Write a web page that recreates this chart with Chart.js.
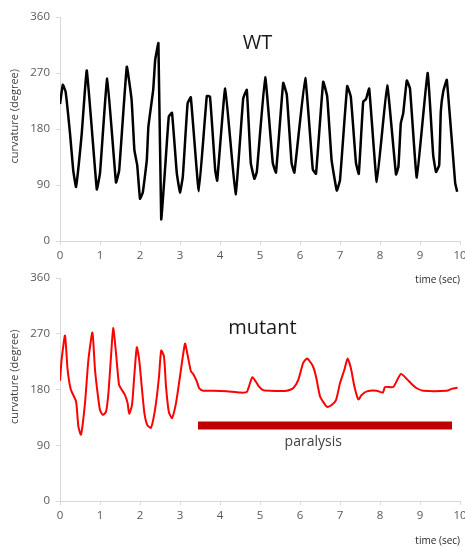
<!DOCTYPE html>
<html>
<head>
<meta charset="utf-8">
<script src="https://cdn.jsdelivr.net/npm/chart.js@4.4.1/dist/chart.umd.min.js"></script>
<style>
  html,body{margin:0;padding:0;background:#fff;overflow:hidden;width:465px;height:548px;}
  canvas{position:absolute;left:0;}
  #idWT{top:0;}
  #idMutante{top:262px;}
</style>
</head>
<body>
<canvas id="idWT" width="480" height="290"></canvas>
<canvas id="idMutante" width="480" height="286"></canvas>
<script>
// datos (tiempo en seg, curvatura en grados)
var wtTiempo=[0,0.07,0.14,0.25,0.33,0.40,0.54,0.67,0.92,1.0,1.18,1.40,1.48,1.67,1.79,1.86,1.93,2.0,2.07,2.17,2.21,2.33,2.38,2.46,2.53,2.63,2.72,2.80,2.92,3.0,3.07,3.19,3.27,3.47,3.67,3.75,3.88,3.93,4.13,4.39,4.58,4.67,4.77,4.86,4.92,5.13,5.32,5.40,5.58,5.67,5.79,5.86,6.13,6.32,6.40,6.58,6.68,6.79,6.92,7.0,7.18,7.27,7.40,7.47,7.58,7.65,7.73,7.92,8.18,8.40,8.46,8.52,8.58,8.67,8.75,8.92,9.19,9.33,9.40,9.48,9.52,9.58,9.67,9.88,9.93];
var wtCurvatura=[220,251,240,173,114,87,170,274,83,109,261,94,114,280,227,146,122,68,78,130,184,243,291,318,35,119,200,206,109,78,103,221,231,80,233,232,114,97,245,75,229,243,125,100,111,263,125,110,254,235,125,110,262,115,108,256,232,130,81,98,249,232,125,108,224,228,245,95,250,107,119,189,205,258,245,102,270,138,111,122,208,240,259,93,79];

var mutTiempo=[0,0.04,0.125,0.19,0.27,0.40,0.46,0.525,0.625,0.71,0.81,0.875,0.94,1.0,1.07,1.15,1.21,1.275,1.33,1.40,1.475,1.54,1.625,1.69,1.73,1.80,1.85,1.92,1.98,2.05,2.11,2.18,2.27,2.33,2.40,2.475,2.53,2.60,2.65,2.72,2.80,2.90,3.0,3.125,3.18,3.27,3.33,3.42,3.48,3.58,3.83,4.17,4.5,4.67,4.81,4.96,5.08,5.25,5.67,5.83,5.96,6.08,6.18,6.32,6.40,6.50,6.60,6.68,6.79,6.90,7.0,7.11,7.19,7.27,7.36,7.46,7.54,7.67,7.92,8.07,8.125,8.33,8.52,8.67,8.79,8.92,9.08,9.67,9.79,9.94];
var mutCurvatura=[194,228,267,212,180,161,120,107,158,228,272,212,174,147,139,144,174,233,279,239,188,180,171,158,141,155,196,248,228,180,142,123,118,131,158,201,243,233,185,144,134,158,201,254,239,210,205,193,182,178,178,177,175,176,200,186,179,178,178,182,196,223,230,218,201,169,158,152,155,163,190,212,230,215,185,164,171,177,178,175,184,184,205,197,189,182,178,178,181,183];

// barra de paralisis
var paralisisTiempo=[3.45,9.8];
var paralisisNivel=[122,122];

// ejes
var ejeX=[0,10];
var ejeY=[0,360];
var pasoX=1;
var pasoY=90;

Chart.defaults.font.family="'Open Sans', sans-serif";

function puntos(xs,ys){
    var p=[];
    for(let i in xs){
        p.push({x:xs[i],y:ys[i]});
    }
    return p;
}

// textos sueltos (titulo del eje y, etiquetas)
var pluginTextos={
    id:'textos',
    afterDraw:function(chart,args,opts){
        var ctx=chart.ctx;
        var a=chart.chartArea;
        ctx.save();
        // titulo eje y
        ctx.translate(15,a.top+0.443*(a.bottom-a.top));
        ctx.rotate(-Math.PI/2);
        ctx.font="11px 'Open Sans', sans-serif";
        ctx.fillStyle="#404040";
        ctx.textAlign="center";
        ctx.textBaseline="middle";
        ctx.fillText("curvature (degree)",0,0);
        ctx.restore();
        var etiquetas=opts.etiquetas||[];
        for(let i in etiquetas){
            var e=etiquetas[i];
            ctx.save();
            ctx.font=e.font;
            ctx.fillStyle=e.color;
            ctx.textAlign="center";
            ctx.textBaseline="middle";
            ctx.fillText(e.texto,chart.scales.x.getPixelForValue(e.x),chart.scales.y.getPixelForValue(e.y));
            ctx.restore();
        }
    }
};

function opciones(arriba,altoEjeX,tituloAbajo,etiquetas){
    return {
        responsive:false,
        animation:false,
        devicePixelRatio:1,
        layout:{padding:{top:arriba,right:20,left:0,bottom:0}},
        plugins:{
            legend:{display:false},
            tooltip:{enabled:false},
            textos:{etiquetas:etiquetas}
        },
        scales:{
            x:{
                type:'linear',
                min:ejeX[0],max:ejeX[1],
                ticks:{stepSize:pasoX,color:'#595959',font:{size:11.5},padding:4},
                grid:{drawOnChartArea:false,color:'#d9d9d9',tickLength:4},
                border:{color:'#d9d9d9'},
                title:{display:true,text:'time (sec)',align:'end',color:'#262626',font:{size:10},padding:{top:0,bottom:tituloAbajo}},
                afterFit:function(s){s.height=altoEjeX;}
            },
            y:{
                min:ejeY[0],max:ejeY[1],
                ticks:{stepSize:pasoY,color:'#595959',font:{size:11.5},padding:6},
                grid:{drawOnChartArea:false,color:'#d9d9d9',tickLength:4},
                border:{color:'#d9d9d9'},
                afterFit:function(s){s.width=60;}
            }
        }
    };
}

var ctx1=document.getElementById('idWT').getContext('2d');
var grafWT=new Chart(ctx1,{
    type:'scatter',
    data:{
        datasets:[{
            label:'WT',
            data:puntos(wtTiempo,wtCurvatura),
            showLine:true,
            borderColor:'#000000',
            borderWidth:2.5,
            borderJoinStyle:'round',
            pointRadius:0,
            tension:0.1
        }]
    },
    options:opciones(17,49,4,[
        {texto:'WT',x:4.94,y:318,font:"20px 'Open Sans', sans-serif",color:'#1a1a1a'}
    ]),
    plugins:[pluginTextos]
});

var ctx2=document.getElementById('idMutante').getContext('2d');
var grafMut=new Chart(ctx2,{
    type:'scatter',
    data:{
        datasets:[{
            label:'mutant',
            data:puntos(mutTiempo,mutCurvatura),
            showLine:true,
            borderColor:'#ff0000',
            borderWidth:2,
            borderJoinStyle:'round',
            pointRadius:0,
            tension:0.2
        },{
            label:'paralysis',
            data:puntos(paralisisTiempo,paralisisNivel),
            showLine:true,
            borderColor:'#c00000',
            borderWidth:8,
            borderCapStyle:'butt',
            pointRadius:0
        }]
    },
    options:opciones(16,47,1,[
        {texto:'mutant',x:5.06,y:278,font:"20px 'Open Sans', sans-serif",color:'#1a1a1a'},
        {texto:'paralysis',x:6.33,y:95,font:"14px 'Open Sans', sans-serif",color:'#404040'}
    ]),
    plugins:[pluginTextos]
});
</script>
</body>
</html>
